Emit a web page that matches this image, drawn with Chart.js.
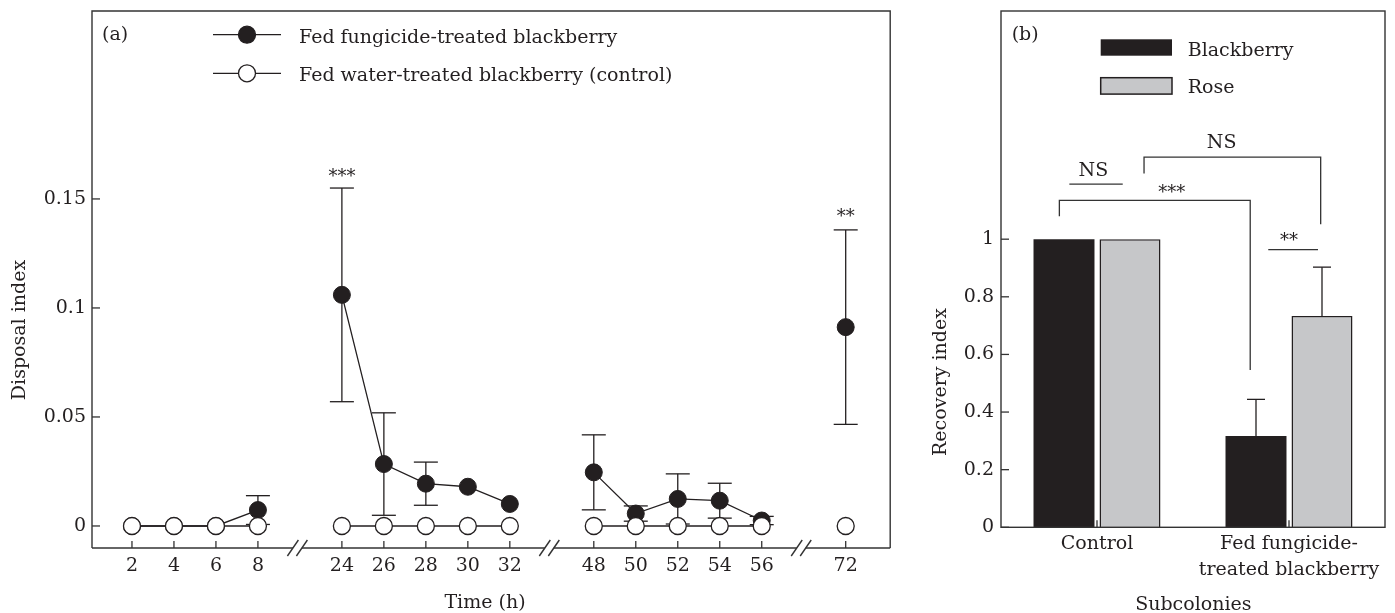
<!DOCTYPE html>
<html>
<head>
<meta charset="utf-8">
<script src="https://cdn.jsdelivr.net/npm/chart.js@4.4.1/dist/chart.umd.min.js"></script>
<style>
  html, body { margin: 0; padding: 0; background: #fff; }
  #wrap { position: relative; width: 1395px; height: 613px; }
  #a { position: absolute; left: 0; top: 0; }
  #b { position: absolute; left: 900px; top: 0; }
</style>
</head>
<body>
<div id="wrap">
  <canvas id="a" width="900" height="613"></canvas>
  <canvas id="b" width="495" height="613"></canvas>
</div>
<script>
const FONT = "'DejaVu Serif', serif";
const INK = "#231f20";
const LINE = "#333";

// panel (a): disposal index over time, "" = axis break
const timeSlots = ["2", "4", "6", "8", "", "24", "26", "28", "30", "32", "", "48", "50", "52", "54", "56", "", "72"];
const fungicideMean = [0, 0, 0, 0.0073, null, 0.106, 0.0284, 0.0194, 0.018, 0.0101, null, 0.0246, 0.0057, 0.0124, 0.0116, 0.0025, null, 0.0912];
const fungicideSE = [0, 0, 0, 0.0066, null, 0.049, 0.0235, 0.0099, 0, 0, null, 0.0172, 0.0035, 0.0115, 0.008, 0.0019, null, 0.0446];
const controlMean = [0, 0, 0, 0, null, 0, 0, 0, 0, 0, null, 0, 0, 0, 0, 0, null, 0];
const disposalTicks = [0, 0.05, 0.1, 0.15];
const disposalTickLabels = ["0", "0.05", "0.1", "0.15"];

// panel (b): recovery index
const subcolonies = ["Control", ["Fed fungicide-", "treated blackberry"]];
const blackberryMean = [1, 0.317];
const blackberrySE = [0, 0.127];
const roseMean = [1, 0.733];
const roseSE = [0, 0.17];
const recoveryTicks = [0, 0.2, 0.4, 0.6, 0.8, 1];
const recoveryTickLabels = ["0", "0.2", "0.4", "0.6", "0.8", "1"];

const toPoints = (arr) => arr.map((v, i) => ({ x: i, y: v }));
const font = (size) => size + "px " + FONT;

function seg(ctx, x1, y1, x2, y2) {
    ctx.beginPath();
    ctx.moveTo(x1, y1);
    ctx.lineTo(x2, y2);
    ctx.stroke();
}

// fixed axis boxes so the plot area lands where the figure has it
const fixWidth = (w) => (s) => { s.width = w; s.paddingTop = 0; s.paddingBottom = 0; };
const fixHeight = (h) => (s) => { s.height = h; s.paddingLeft = 0; s.paddingRight = 0; };

// ---------- panel (a) plugins ----------
const frameA = {
    id: "frameA",
    afterDraw(chart) {
        const { ctx, chartArea: a, scales: { x, y } } = chart;
        ctx.save();
        ctx.strokeStyle = LINE;
        ctx.lineWidth = 1.4;
        ctx.beginPath();
        ctx.moveTo(a.left, a.bottom);
        ctx.lineTo(a.left, a.top);
        ctx.lineTo(a.right, a.top);
        ctx.lineTo(a.right, a.bottom);
        ctx.stroke();
        // bottom axis with breaks
        let from = a.left;
        timeSlots.forEach((t, i) => {
            if (t !== "") return;
            const cx = x.getPixelForValue(i) - 2.5;
            seg(ctx, from, a.bottom, cx - 4.5, a.bottom);
            for (const dx of [-4.5, 4.5]) {
                seg(ctx, cx + dx - 5.5, a.bottom + 8, cx + dx + 5.5, a.bottom - 8);
            }
            from = cx + 4.5;
        });
        seg(ctx, from, a.bottom, a.right, a.bottom);
        // inward ticks
        ctx.lineWidth = 1.3;
        x.ticks.forEach((t) => {
            const px = x.getPixelForValue(t.value);
            seg(ctx, px, a.bottom, px, a.bottom - 7);
        });
        y.ticks.forEach((t) => {
            const py = y.getPixelForValue(t.value);
            seg(ctx, a.left, py, a.left + 8, py);
        });
        ctx.restore();
    },
};

const errorBarsA = {
    id: "errorBarsA",
    beforeDatasetsDraw(chart) {
        const { ctx, scales: { x, y } } = chart;
        ctx.save();
        ctx.strokeStyle = INK;
        ctx.lineWidth = 1.3;
        fungicideMean.forEach((m, i) => {
            const se = fungicideSE[i];
            if (m === null || !se) return;
            const px = x.getPixelForValue(i);
            const hi = y.getPixelForValue(m + se);
            const lo = y.getPixelForValue(m - se);
            seg(ctx, px, hi, px, lo);
            seg(ctx, px - 12, hi, px + 12, hi);
            seg(ctx, px - 12, lo, px + 12, lo);
        });
        ctx.restore();
    },
};

const sigA = [
    { slot: 5, y: 0.1578, text: "***" },
    { slot: 17, y: 0.1395, text: "**" },
];

const textA = {
    id: "textA",
    afterDraw(chart) {
        const { ctx, scales: { x, y } } = chart;
        ctx.save();
        ctx.fillStyle = INK;
        ctx.strokeStyle = INK;
        ctx.textBaseline = "alphabetic";
        ctx.font = font(19);
        ctx.textAlign = "left";
        ctx.fillText("(a)", 102, 39.5);

        // legend
        const rows = [
            { ds: chart.data.datasets[1], ly: 34.7, ty: 42.7 },
            { ds: chart.data.datasets[0], ly: 73.3, ty: 80.7 },
        ];
        rows.forEach((r) => {
            ctx.lineWidth = 1.3;
            seg(ctx, 213, r.ly, 281, r.ly);
            ctx.beginPath();
            ctx.arc(247, r.ly, 8.5, 0, Math.PI * 2);
            ctx.fillStyle = r.ds.pointBackgroundColor;
            ctx.fill();
            ctx.stroke();
            ctx.fillStyle = INK;
            ctx.fillText(r.ds.label, 299, r.ty);
        });

        // significance
        ctx.textAlign = "center";
        ctx.font = font(18);
        sigA.forEach((s) => {
            ctx.fillText(s.text, x.getPixelForValue(s.slot), y.getPixelForValue(s.y));
        });

        // axis titles
        ctx.font = font(19);
        ctx.fillText("Time (h)", 485, 608);
        ctx.translate(25, 330);
        ctx.rotate(-Math.PI / 2);
        ctx.fillText("Disposal index", 0, 0);
        ctx.restore();
    },
};

new Chart(document.getElementById("a"), {
    type: "line",
    data: {
        datasets: [
            {
                label: "Fed water-treated blackberry (control)",
                data: toPoints(controlMean),
                borderColor: INK,
                borderWidth: 1.3,
                pointRadius: 8.5,
                pointBackgroundColor: "#fff",
                pointBorderColor: INK,
                pointBorderWidth: 1.3,
                spanGaps: false,
                clip: false,
            },
            {
                label: "Fed fungicide-treated blackberry",
                data: toPoints(fungicideMean),
                borderColor: INK,
                borderWidth: 1.3,
                pointRadius: 8.5,
                pointBackgroundColor: INK,
                pointBorderColor: INK,
                pointBorderWidth: 1,
                spanGaps: false,
                clip: false,
            },
        ],
    },
    options: {
        responsive: false,
        animation: false,
        events: [],
        layout: { padding: { left: 0, top: 11, right: 9, bottom: 0 } },
        plugins: { legend: { display: false }, tooltip: { enabled: false } },
        scales: {
            x: {
                type: "linear",
                min: -0.952,
                max: 18.06,
                afterBuildTicks: (s) => {
                    s.ticks = timeSlots
                        .map((t, i) => ({ value: i }))
                        .filter((t) => timeSlots[t.value] !== "");
                },
                afterFit: fixHeight(65),
                grid: { display: false, drawTicks: false },
                border: { display: false },
                ticks: {
                    autoSkip: false,
                    maxRotation: 0,
                    padding: 5,
                    color: INK,
                    font: { family: FONT, size: 19, lineHeight: 1.37 },
                    callback: (v) => timeSlots[v],
                },
            },
            y: {
                min: -0.0101,
                max: 0.2362,
                afterBuildTicks: (s) => {
                    s.ticks = disposalTicks.map((v) => ({ value: v }));
                },
                afterFit: fixWidth(92),
                grid: { display: false, drawTicks: false },
                border: { display: false },
                ticks: {
                    padding: 6,
                    color: INK,
                    font: { family: FONT, size: 19 },
                    callback: (v, i) => disposalTickLabels[i],
                },
            },
        },
    },
    plugins: [frameA, errorBarsA, textA],
});

// ---------- panel (b) plugins ----------
const frameB = {
    id: "frameB",
    afterDraw(chart) {
        const { ctx, chartArea: a, scales: { x, y } } = chart;
        ctx.save();
        ctx.strokeStyle = LINE;
        ctx.lineWidth = 1.4;
        ctx.strokeRect(a.left, a.top, a.right - a.left, a.bottom - a.top);
        ctx.lineWidth = 1.3;
        y.ticks.forEach((t) => {
            const py = y.getPixelForValue(t.value);
            seg(ctx, a.left, py, a.left + 8, py);
        });
        subcolonies.forEach((c, i) => {
            const px = x.getPixelForValue(i);
            seg(ctx, px, a.bottom, px, a.bottom - 7);
        });
        ctx.restore();
    },
};

const errorBarsB = {
    id: "errorBarsB",
    afterDatasetsDraw(chart) {
        const { ctx, scales: { y } } = chart;
        ctx.save();
        ctx.strokeStyle = INK;
        ctx.lineWidth = 1.3;
        chart.data.datasets.forEach((ds, di) => {
            const meta = chart.getDatasetMeta(di);
            ds.data.forEach((m, i) => {
                const se = ds.errors[i];
                if (!se) return;
                const px = meta.data[i].x;
                const top = y.getPixelForValue(m);
                const hi = y.getPixelForValue(m + se);
                seg(ctx, px, top, px, hi);
                seg(ctx, px - 9, hi, px + 9, hi);
            });
        });
        ctx.restore();
    },
};

const bracketsB = [
    [[-0.196, 1.08], [-0.196, 1.135], [0.798, 1.135], [0.798, 0.546]],
    [[0.245, 1.228], [0.245, 1.285], [1.165, 1.285], [1.165, 1.052]],
    [[-0.144, 1.191], [0.134, 1.191]],
    [[0.892, 0.964], [1.151, 0.964]],
];
const sigB = [
    { x: 0.389, y: 1.144, text: "***", size: 18 },
    { x: 0.649, y: 1.317, text: "NS", size: 19 },
    { x: -0.019, y: 1.221, text: "NS", size: 19 },
    { x: 1.0, y: 0.976, text: "**", size: 18 },
];

const textB = {
    id: "textB",
    afterDraw(chart) {
        const { ctx, scales: { x, y } } = chart;
        ctx.save();
        ctx.fillStyle = INK;
        ctx.strokeStyle = LINE;
        ctx.lineWidth = 1.3;
        ctx.textBaseline = "alphabetic";
        ctx.font = font(19);
        ctx.textAlign = "left";
        ctx.fillText("(b)", 111.7, 39.5);

        // legend
        const rows = [
            { ds: chart.data.datasets[0], ry: 39.3, ty: 56 },
            { ds: chart.data.datasets[1], ry: 77.7, ty: 93.3 },
        ];
        rows.forEach((r) => {
            ctx.fillStyle = r.ds.backgroundColor;
            ctx.fillRect(200.7, r.ry, 71.3, 16.4);
            if (r.ds.borderWidth) {
                ctx.lineWidth = 1.5;
                ctx.strokeStyle = INK;
                ctx.strokeRect(200.7, r.ry, 71.3, 16.4);
            }
            ctx.fillStyle = INK;
            ctx.fillText(r.ds.label, 287.7, r.ty);
        });

        // brackets and significance
        ctx.strokeStyle = LINE;
        ctx.lineWidth = 1.3;
        bracketsB.forEach((pts) => {
            ctx.beginPath();
            pts.forEach(([vx, vy], k) => {
                const px = x.getPixelForValue(vx);
                const py = y.getPixelForValue(vy);
                if (k === 0) ctx.moveTo(px, py);
                else ctx.lineTo(px, py);
            });
            ctx.stroke();
        });
        ctx.textAlign = "center";
        sigB.forEach((s) => {
            ctx.font = font(s.size);
            ctx.fillText(s.text, x.getPixelForValue(s.x), y.getPixelForValue(s.y));
        });

        // axis titles
        ctx.font = font(19);
        ctx.fillText("Subcolonies", 293.3, 609.5);
        ctx.translate(46, 382);
        ctx.rotate(-Math.PI / 2);
        ctx.fillText("Recovery index", 0, 0);
        ctx.restore();
    },
};

new Chart(document.getElementById("b"), {
    type: "bar",
    data: {
        labels: subcolonies,
        datasets: [
            {
                label: "Blackberry",
                data: blackberryMean,
                errors: blackberrySE,
                backgroundColor: INK,
                borderColor: INK,
                borderWidth: 0,
                categoryPercentage: 0.6875,
                barPercentage: 0.924,
            },
            {
                label: "Rose",
                data: roseMean,
                errors: roseSE,
                backgroundColor: "#c6c7c9",
                borderColor: INK,
                borderWidth: 1.5,
                categoryPercentage: 0.6875,
                barPercentage: 0.924,
            },
        ],
    },
    options: {
        responsive: false,
        animation: false,
        events: [],
        layout: { padding: { left: 0, top: 11, right: 10, bottom: 0 } },
        plugins: { legend: { display: false }, tooltip: { enabled: false } },
        scales: {
            x: {
                afterFit: fixHeight(85.7),
                grid: { display: false, drawTicks: false },
                border: { display: false },
                ticks: {
                    autoSkip: false,
                    maxRotation: 0,
                    padding: 4,
                    color: INK,
                    font: { family: FONT, size: 19, lineHeight: 1.37 },
                },
            },
            y: {
                min: 0,
                max: 1.792,
                afterBuildTicks: (s) => {
                    s.ticks = recoveryTicks.map((v) => ({ value: v }));
                },
                afterFit: fixWidth(101),
                grid: { display: false, drawTicks: false },
                border: { display: false },
                ticks: {
                    padding: 7,
                    color: INK,
                    font: { family: FONT, size: 19 },
                    callback: (v, i) => recoveryTickLabels[i],
                },
            },
        },
    },
    plugins: [frameB, errorBarsB, textB],
});
</script>
</body>
</html>
